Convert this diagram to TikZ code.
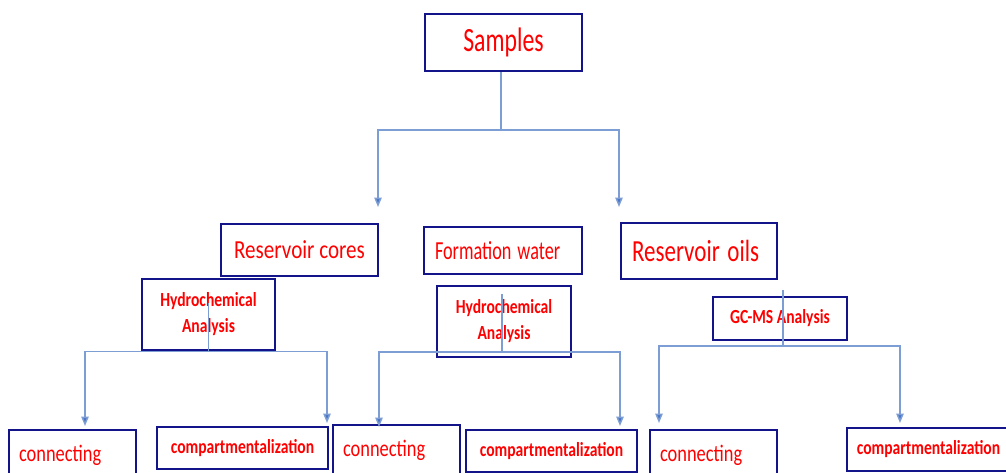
\documentclass[tikz,border=0pt]{standalone}
\usepackage{fontspec}
\setmainfont{Carlito}
\usetikzlibrary{arrows.meta}

\definecolor{boxblue}{RGB}{20,20,138}
\definecolor{linkblue}{RGB}{125,158,212}
\definecolor{tipblue}{RGB}{70,115,195}
\newcommand{\sqz}[2]{\scalebox{#1}[1]{#2}}

\begin{document}
\begin{tikzpicture}[x=0.75pt, y=-0.75pt,
    box/.style={draw=boxblue, line width=1.9pt, text=red, inner sep=0pt},
    wh/.style 2 args={minimum width=#1*0.75pt, minimum height=#2*0.75pt},
    bigtext/.style={font=\fontsize{19.5}{23}\selectfont},
    smalltext/.style={font=\bfseries\fontsize{15}{19.5}\selectfont, align=center},
    link/.style={draw=linkblue, line width=1.1pt},
    arr/.style={draw=linkblue, line width=1.1pt, -{Triangle[width=5.5pt, length=7pt, fill=tipblue]}}]

    \clip (0,0) rectangle (1006,473);
    \fill[white] (0,0) rectangle (1006,473);

    \node[box, wh={157}{57}, font=\fontsize{25.5}{30}\selectfont] (samples) at (503.5,42.5) {\sqz{0.70}{Samples}};

    \node[box, wh={157}{52}, bigtext] (cores) at (299.5,250) {\sqz{0.81}{Reservoir cores}};
    \node[box, wh={158}{47}, bigtext, text width=136*0.75pt, align=left] (water) at (503,250.5) {\sqz{0.70}{Formation water}};
    \node[box, wh={156}{56}, font=\fontsize{23}{27}\selectfont, text width=134*0.75pt, align=left] (oils) at (699,251) {\sqz{0.75}{Reservoir oils}};

    \node[box, wh={133}{71}, smalltext] (hydroA) at (208.5,314.5) {\sqz{0.78}{Hydrochemical}\\\sqz{0.78}{Analysis}};
    \node[box, wh={134}{71}, smalltext] (hydroB) at (504,321.5) {\sqz{0.78}{Hydrochemical}\\\sqz{0.78}{Analysis}};
    \node[box, wh={134}{43}, smalltext] (gcms) at (780,318.5) {\sqz{0.78}{GC-MS Analysis}};

    \node[box, wh={127}{50}, font=\fontsize{17.7}{21}\selectfont, text width=107*0.75pt, align=left] (connA) at (72.5,455) {\sqz{0.78}{connecting}};
    \node[box, wh={171}{42}, smalltext] (compA) at (242.5,448) {\sqz{0.78}{compartmentalization}};
    \node[box, wh={127}{50}, font=\fontsize{17.7}{21}\selectfont, text width=107*0.75pt, align=left] (connB) at (396.5,450) {\sqz{0.78}{connecting}};
    \node[box, wh={171}{42}, smalltext] (compB) at (551.5,451) {\sqz{0.78}{compartmentalization}};
    \node[box, wh={127}{50}, font=\fontsize{17.7}{21}\selectfont, text width=107*0.75pt, align=left] (connC) at (713.5,455) {\sqz{0.78}{connecting}};
    \node[box, wh={163}{43}, smalltext] (compC) at (928.5,449.5) {\sqz{0.78}{compartmentalization}};

    % branch points and arrow ends
    \coordinate (s1) at (501,130);
    \coordinate (t1) at (378,207);
    \coordinate (t2) at (619,207);
    \coordinate (hB) at (502,352);
    \coordinate (g1) at (783,346);
    \coordinate (tA1) at (85,426);
    \coordinate (tA2) at (327,423);
    \coordinate (tB1) at (379,427);
    \coordinate (tB2) at (620,426);
    \coordinate (tC1) at (659,423);
    \coordinate (tC2) at (900,423);

    \draw[link] (samples.south -| s1) -- (s1);
    \draw[arr] (s1) -| (t1);
    \draw[arr] (s1) -| (t2);

    \draw[link] ([yshift=8.6pt]hydroA.center) -- (hydroA.south);
    \draw[arr] (hydroA.south) -| (tA1);
    \draw[arr] (hydroA.south) -| (tA2);

    \draw[link] (hB) -- ++(0,-58);
    \draw[arr] (hB) -| (tB1);
    \draw[arr] (hB) -| (tB2);

    \draw[link] (g1) -- ++(0,-56);
    \draw[arr] (g1) -| (tC1);
    \draw[arr] (g1) -| (tC2);

\end{tikzpicture}
\end{document}
